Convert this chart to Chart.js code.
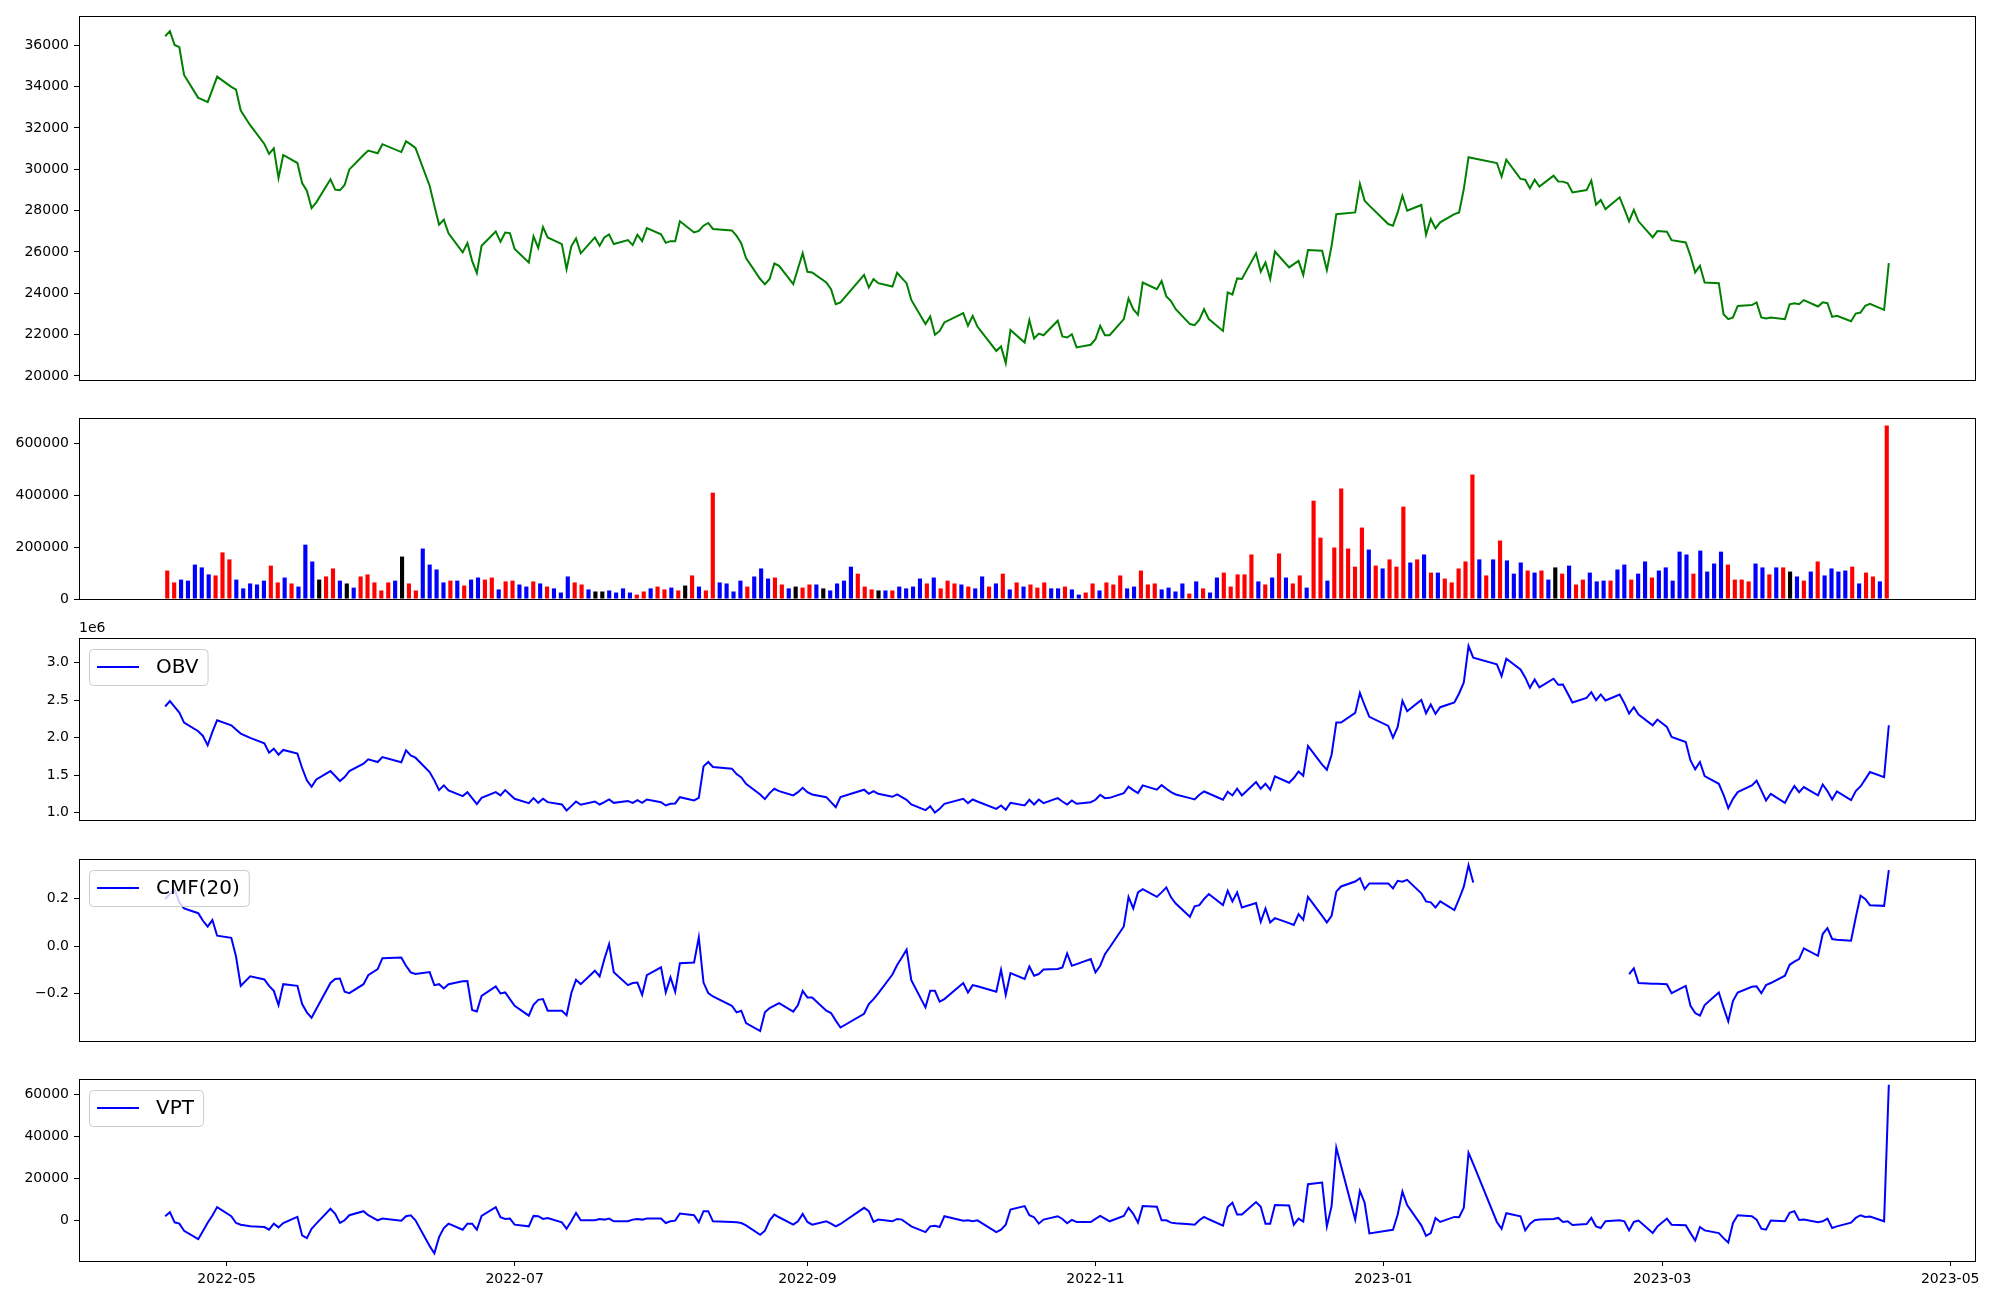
<!DOCTYPE html>
<html lang="en">
<head>
<meta charset="UTF-8">
<title>Price, volume and volume indicators</title>
<script src="https://cdn.jsdelivr.net/npm/chart.js"></script>
<style>
  body { margin: 0; background: #fff; }
  #wrap { position: relative; width: 2000px; height: 1300px; overflow: hidden; }
  #wrap canvas { position: absolute; left: 0; }
</style>
</head>
<body>
<div id="wrap"></div>
<script>
// ---- data ----
const firstDay = '2022-04-18';
const lastDay = '2023-04-18';
const holidays = ['2022-05-05', '2022-06-01', '2022-06-06', '2022-08-15', '2022-09-09', '2022-09-12',
  '2022-10-03', '2022-10-10', '2022-12-30', '2023-01-23', '2023-01-24', '2023-03-01'];

const monthTicks = ['2022-05', '2022-07', '2022-09', '2022-11', '2023-01', '2023-03', '2023-05'];
const priceTicks = [20000, 22000, 24000, 26000, 28000, 30000, 32000, 34000, 36000];
const volTicks = [0, 200000, 400000, 600000];
const obvTicks = [1.0, 1.5, 2.0, 2.5, 3.0];
const cmfTicks = [-0.2, 0.0, 0.2];
const vptTicks = [0, 20000, 40000, 60000];

// closing price, one row per week
const price = [
  36430, 36680, 36010, 35900, 34560,
  33450, 33350, 33240, 33850, 34480,
  33980, 33850, 32840, 32130,
  31220, 30740, 31010, 29580, 30690,
  30300, 29330, 28960, 28120, 28400,
  29510, 29010, 28980, 29240, 29990,
  30690, 30900, 30770, 31210,
  30830, 31350, 31200, 31030,
  29200, 28240, 27320, 27560, 26900,
  25980, 26430, 25570, 24980, 26300,
  26990, 26490, 26940, 26910, 26140,
  25490, 26750, 26190, 27200, 26700,
  26380, 25170, 26270, 26650, 25930,
  26700, 26300, 26700, 26850, 26380,
  26570, 26330, 26830, 26520, 27150,
  26850, 26440, 26520, 26520, 27480,
  26940, 27020, 27270, 27400, 27110,
  27040, 26780, 26410, 25700,
  24690, 24440, 24690, 25440, 25330,
  24440, 25200, 25940, 25040, 25010,
  24520, 24200, 23470, 23560,
  24890, 24280, 24690, 24490,
  24330, 24990, 24730, 24490, 23680,
  22510, 22880, 21990, 22180, 22590,
  23040, 22430, 22910, 22390,
  21210, 21430, 20620, 22230,
  21620, 22700, 21810, 22050, 21970,
  22670, 21910, 21860, 22020, 21380,
  21510, 21780, 22430, 21970, 21970,
  22750, 23750, 23230, 22960, 24520,
  24200, 24590, 23850, 23620, 23230,
  22510, 22460, 22720, 23230, 22750,
  22180, 24040, 23940, 24720, 24690,
  25930, 25040, 25490, 24690, 26020,
  25250, 25410, 25570, 24880, 26090,
  26060, 25120, 26300, 27830, 27850,
  27910, 29290, 28480, 28240,
  27350, 27270, 27910, 28720, 27990,
  28270, 26830, 27590, 27140, 27430,
  27830, 27910, 29040, 30580, 30530,
  30300, 29640, 30460,
  29530, 29490, 29070, 29490, 29160,
  29690, 29410, 29400, 29320, 28880,
  28990, 29450, 28280, 28510, 28070,
  28640, 28070, 27480, 28030, 27480,
  26700, 27010, 26980, 26570,
  26460, 25810, 25010, 25330, 24520,
  24490, 22990, 22750, 22830, 23390,
  23430, 23560, 22830, 22780, 22830,
  22750, 23470, 23520, 23470, 23670,
  23360, 23560, 23520, 22860, 22910,
  22650, 23020, 23070, 23390, 23490,
  23200, 25460
];

// traded volume in thousands of shares, ten bars per row
const volumeK = [
  110, 64, 75, 71, 133, 122, 95, 91, 180, 153,
  75, 41, 60, 56, 71, 129, 64, 83, 60, 48,
  210, 145, 75, 87, 118, 71, 60, 44, 87, 95,
  64, 33, 64, 71, 164, 60, 33, 195, 133, 114,
  64, 71, 71, 52, 75, 83, 75, 83, 37, 68,
  71, 56, 48, 68, 60, 48, 41, 25, 87, 64,
  56, 37, 29, 29, 33, 25, 41, 25, 17, 29,
  41, 48, 37, 44, 33, 52, 91, 48, 33, 411,
  64, 60, 29, 71, 48, 87, 118, 79, 83, 56,
  41, 48, 44, 56, 56, 41, 33, 60, 71, 125,
  98, 48, 37, 33, 33, 33, 48, 41, 48, 79,
  60, 83, 41, 71, 60, 56, 48, 41, 87, 48,
  60, 98, 37, 64, 48, 56, 44, 64, 41, 41,
  48, 37, 17, 25, 60, 33, 64, 56, 91, 41,
  48, 110, 56, 60, 37, 44, 29, 60, 21, 68,
  41, 25, 83, 102, 48, 95, 95, 172, 68, 56,
  83, 176, 83, 60, 91, 44, 380, 237, 71, 199,
  427, 195, 125, 276, 191, 129, 118, 153, 125, 357,
  141, 153, 172, 102, 102, 79, 64, 118, 145, 481,
  153, 91, 153, 226, 149, 98, 141, 110, 102, 110,
  75, 122, 98, 129, 56, 75, 102, 68, 71, 71,
  114, 133, 75, 98, 145, 83, 110, 122, 71, 183,
  172, 98, 187, 106, 137, 183, 133, 75, 75, 68,
  137, 122, 95, 122, 122, 106, 87, 71, 106, 145,
  91, 118, 106, 110, 125, 60, 102, 87, 68, 670
];

// day direction of each bar: u = up, d = down, n = unchanged
const volumeDir = (
  'uuddd dduuu ddddd uudud ddnuu dnduu uuudn uuddd dudud duudu ' +
  'uddud udddu udnnd ddduu duudu nuduu ddddu ddduu dnuud ndddd ' +
  'uuund udddd uduuu duddu dudud uuudd udduu duuud duuud dddud ' +
  'udduu uuudu duduu duudu uuuud uduuu dudud uuuuu dudud ddudu ' +
  'dnudu udddu ddudd udddd duddd duuuu ddudu ndudu ddddu duudu'
).replace(/ /g, '').split('');

// on balance volume, in millions
const obv = [
  2.415, 2.487, 2.411, 2.335, 2.201,
  2.085, 2.022, 1.897, 2.076, 2.232,
  2.165, 2.107, 2.054, 1.996,
  1.924, 1.799, 1.853, 1.772, 1.835,
  1.786, 1.594, 1.429, 1.344, 1.442,
  1.554, 1.487, 1.420, 1.473, 1.554,
  1.652, 1.710, 1.674, 1.741,
  1.670, 1.830, 1.763, 1.732,
  1.540, 1.429, 1.299, 1.362, 1.295,
  1.219, 1.272, 1.192, 1.112, 1.196,
  1.272, 1.228, 1.299, 1.241, 1.183,
  1.125, 1.192, 1.129, 1.183, 1.138,
  1.107, 1.027, 1.085, 1.147, 1.103,
  1.147, 1.107, 1.138, 1.174, 1.129,
  1.152, 1.129, 1.165, 1.129, 1.174,
  1.138, 1.094, 1.116, 1.121, 1.205,
  1.161, 1.196, 1.616, 1.674, 1.607,
  1.585, 1.513, 1.469, 1.384,
  1.241, 1.179, 1.259, 1.317, 1.286,
  1.228, 1.272, 1.330, 1.272, 1.241,
  1.205, 1.138, 1.071, 1.205,
  1.304, 1.250, 1.286, 1.250,
  1.210, 1.241, 1.205, 1.170, 1.107,
  1.031, 1.085, 1.000, 1.049, 1.116,
  1.183, 1.125, 1.174, 1.147,
  1.049, 1.094, 1.036, 1.129,
  1.095, 1.170, 1.107, 1.174, 1.125,
  1.192, 1.147, 1.107, 1.161, 1.116,
  1.138, 1.170, 1.237, 1.192, 1.196,
  1.259, 1.344, 1.299, 1.259, 1.362,
  1.304, 1.366, 1.317, 1.272, 1.241,
  1.192, 1.174, 1.237, 1.281, 1.254,
  1.170, 1.277, 1.228, 1.317, 1.228,
  1.406, 1.317, 1.384, 1.304, 1.482,
  1.397, 1.460, 1.549, 1.491, 1.888,
  1.638, 1.571, 1.772, 2.201, 2.201,
  2.330, 2.598, 2.429, 2.277,
  2.156, 2.000, 2.143, 2.491, 2.353,
  2.504, 2.326, 2.442, 2.317, 2.406,
  2.469, 2.589, 2.737, 3.223, 3.067,
  2.978, 2.821, 3.054,
  2.911, 2.804, 2.665, 2.777, 2.670,
  2.786, 2.705, 2.710, 2.589, 2.469,
  2.531, 2.607, 2.500, 2.576, 2.496,
  2.576, 2.460, 2.321, 2.406, 2.308,
  2.165, 2.241, 2.143, 2.009,
  1.942, 1.696, 1.576, 1.674, 1.487,
  1.384, 1.237, 1.058, 1.183, 1.272,
  1.362, 1.424, 1.295, 1.161, 1.250,
  1.129, 1.250, 1.353, 1.272, 1.339,
  1.228, 1.375, 1.286, 1.174, 1.281,
  1.165, 1.286, 1.348, 1.442, 1.540,
  1.473, 2.165
];

// Chaikin money flow (20), gaps where no value was plotted
const cmf = [
  0.199, 0.220, 0.238, 0.185, 0.159,
  0.139, 0.107, 0.082, 0.110, 0.044,
  0.035, -0.044, -0.168, -0.128,
  -0.141, -0.168, -0.189, -0.249, -0.161,
  -0.168, -0.245, -0.280, -0.303, -0.266,
  -0.156, -0.139, -0.137, -0.193, -0.199,
  -0.161, -0.123, -0.097, -0.051,
  -0.048, -0.083, -0.111, -0.118,
  -0.110, -0.165, -0.161, -0.179, -0.161,
  -0.149, -0.148, -0.270, -0.276, -0.210,
  -0.170, -0.200, -0.196, -0.224, -0.252,
  -0.294, -0.248, -0.227, -0.224, -0.273,
  -0.273, -0.292, -0.199, -0.142, -0.161,
  -0.104, -0.128, -0.055, 0.008, -0.111,
  -0.165, -0.156, -0.154, -0.206, -0.123,
  -0.090, -0.196, -0.132, -0.193, -0.072,
  -0.069, 0.037, -0.154, -0.199, -0.213,
  -0.252, -0.280, -0.273, -0.325,
  -0.359, -0.280, -0.262, -0.252, -0.241,
  -0.277, -0.249, -0.189, -0.217, -0.217,
  -0.273, -0.283, -0.315, -0.344,
  -0.286, -0.245, -0.224, -0.200,
  -0.120, -0.080, -0.048, -0.015, -0.144,
  -0.259, -0.189, -0.189, -0.235, -0.224,
  -0.156, -0.196, -0.165, -0.170,
  -0.193, -0.100, -0.206, -0.114,
  -0.139, -0.086, -0.125, -0.118, -0.099,
  -0.097, -0.090, -0.031, -0.083, -0.076,
  -0.055, -0.111, -0.083, -0.034, -0.006,
  0.083, 0.208, 0.159, 0.227, 0.241,
  0.208, 0.227, 0.248, 0.206, 0.180,
  0.124, 0.168, 0.173, 0.199, 0.220,
  0.173, 0.234, 0.189, 0.227, 0.163,
  0.182, 0.103, 0.159, 0.100, 0.118,
  0.097, 0.089, 0.135, 0.111, 0.208,
  0.128, 0.100, 0.128, 0.230, 0.252,
  0.273, 0.287, 0.241, 0.265,
  0.265, 0.244, 0.276, 0.272, 0.280,
  0.223, 0.189, 0.185, 0.163, 0.189,
  0.152, 0.199, 0.251, 0.342, 0.269,
  null, null, null,
  null, null, null, null, null,
  null, null, null, null, null,
  null, null, null, null, null,
  null, null, -0.118, -0.094, -0.156,
  -0.159, -0.159, -0.161, -0.199,
  -0.168, -0.252, -0.283, -0.294, -0.249,
  -0.196, -0.259, -0.318, -0.231, -0.196,
  -0.172, -0.170, -0.199, -0.165, -0.156,
  -0.125, -0.079, -0.066, -0.055, -0.010,
  -0.041, 0.051, 0.076, 0.030, 0.027,
  0.023, 0.121, 0.213, 0.199, 0.173,
  0.170, 0.321
];

// volume price trend
const vpt = [
  2080, 4000, -800, -1440, -4800,
  -8800, -4960, -960, 2400, 6400,
  2080, -1120, -1920, -2720,
  -3040, -4320, -1440, -3200, -1120,
  1760, -7040, -8320, -3840, -1440,
  5600, 3200, -1120, 160, 2560,
  4480, 2560, 160, 960,
  0, 2080, 2560, 160,
  -12000, -15520, -7840, -3520, -1440,
  -4320, -1440, -1440, -4320, 2240,
  6400, 1600, 800, 960, -1920,
  -2720, 2240, 2080, 800, 1280,
  -800, -3840, -320, 3680, 160,
  160, 800, 480, 960, -320,
  -320, 480, 800, 480, 960,
  960, -1120, -320, 0, 3360,
  2560, -800, 4480, 4480, -320,
  -640, -800, -1120, -2240,
  -6720, -4800, 160, 2880, 1600,
  -1920, -320, 3200, -640, -1920,
  -320, -1440, -2720, -1600,
  6080, 4480, -640, 480,
  -320, 800, 480, -1120, -2720,
  -5440, -2720, -2400, -3040, 2080,
  0, 160, -320, 160,
  -5440, -4320, -1920, 5280,
  6880, 2560, 1600, -1440, 480,
  2080, 800, -1280, 320, -640,
  -640, 800, 2240, 960, -320,
  2240, 6080, 3200, -960, 6880,
  6560, 160, 160, -960, -1280,
  -1760, -1920, 160, 1760, 640,
  -2400, 6400, 8480, 2880, 2880,
  8800, 6560, -1440, -1440, 7360,
  7200, -1920, 960, -480, 17280,
  18080, -2720, 6880, 34560, 26080,
  480, 14080, 8480, -6080,
  -4640, -4320, 2880, 13760, 7360,
  -2240, -7200, -5920, 1280, -640,
  1760, 1600, 6080, 32160, 26880,
  -640, -3840, 3520,
  2080, -4640, -1600, 160, 480,
  800, 1280, -640, -320, -2080,
  -1600, 1280, -2720, -3520, -320,
  160, -320, -4640, -640, 0,
  -5920, -2720, 960, -1920,
  -2240, -5920, -9440, -3040, -4640,
  -5920, -8320, -10400, -1120, 2560,
  2080, 480, -3840, -4320, 0,
  -320, 3680, 4480, 320, 480,
  -800, -320, 960, -3520, -2720,
  -960, 1280, 2560, 1760, 1920,
  -320, 64480
];

// ---- dates ----
const DAY = 86400000;
const epoch = Date.parse('2022-05-01');
const dayOffset = iso => (Date.parse(iso) - epoch) / DAY;

function tradingDays() {
  const out = [];
  for (let t = Date.parse(firstDay); t <= Date.parse(lastDay); t += DAY) {
    const d = new Date(t);
    const wd = d.getUTCDay();
    const iso = d.toISOString().slice(0, 10);
    if (wd !== 0 && wd !== 6 && !holidays.includes(iso)) out.push(iso);
  }
  return out;
}

const dates = tradingDays();
const dayX = dates.map(dayOffset);
[['price', price], ['volume', volumeK], ['obv', obv], ['cmf', cmf], ['vpt', vpt], ['dir', volumeDir]]
  .forEach(([n, a]) => { if (a.length !== dates.length) throw new Error(n + ' has ' + a.length + ' of ' + dates.length); });

const onDates = arr => arr.map((v, i) => ({ x: dayX[i], y: v }));

// ---- layout ----
const PLOT_LEFT = 79, PLOT_RIGHT = 1975;
const X_MIN = -31.25, X_MAX = 370.25;          // days around 2022-05-01
const BAR_MIN = -12.78, BAR_MAX = 261.78;      // bar index range
const X_AXIS_H = 35;
const dirColor = { u: '#ff0000', d: '#0000ff', n: '#000000' };

Chart.defaults.font.family = "'DejaVu Sans', sans-serif";
Chart.defaults.font.size = 14;
Chart.defaults.color = '#000';

const tickGrid = { drawOnChartArea: false, drawTicks: true, tickLength: 5, color: '#000', lineWidth: 1 };

function yAxis(min, max, ticks, fmt) {
  return {
    type: 'linear', position: 'left', min: min, max: max,
    afterFit: s => { s.width = PLOT_LEFT; },
    afterBuildTicks: s => { s.ticks = ticks.map(v => ({ value: v })); },
    ticks: { callback: v => fmt(v), padding: 5, autoSkip: false },
    grid: tickGrid,
    border: { display: false }
  };
}

function dateAxis(show) {
  const axis = {
    type: 'linear', min: X_MIN, max: X_MAX, display: show,
    afterBuildTicks: s => { s.ticks = monthTicks.map(m => ({ value: dayOffset(m + '-01') })); },
    ticks: { callback: (v, i) => monthTicks[i], padding: 5, autoSkip: false, maxRotation: 0 },
    grid: tickGrid,
    border: { display: false }
  };
  if (show) axis.afterFit = s => { s.height = X_AXIS_H; };
  return axis;
}

const minus = s => s.replace('-', '\u2212');

// frame, matplotlib-like legend box and offset text
const decorations = {
  id: 'decorations',
  afterDatasetsDraw(chart, args, opts) {
    const { ctx, chartArea: a } = chart;
    ctx.save();
    if (opts.legend) {
      const ds = chart.data.datasets[0];
      ctx.font = "20px 'DejaVu Sans'";
      const tw = ctx.measureText(ds.label).width;
      const x = a.left + 10, y = a.top + 11, h = 36, w = 67 + tw + 9;
      ctx.beginPath();
      ctx.roundRect(x + 0.5, y + 0.5, w, h, 4);
      ctx.fillStyle = 'rgba(255,255,255,0.8)';
      ctx.fill();
      ctx.strokeStyle = '#cccccc';
      ctx.lineWidth = 1;
      ctx.stroke();
      ctx.beginPath();
      ctx.moveTo(x + 8, y + h / 2);
      ctx.lineTo(x + 50, y + h / 2);
      ctx.strokeStyle = ds.borderColor;
      ctx.lineWidth = 2;
      ctx.stroke();
      ctx.fillStyle = '#000';
      ctx.textBaseline = 'middle';
      ctx.fillText(ds.label, x + 67, y + h / 2 + 1);
    }
    if (opts.offsetText) {
      ctx.font = "14px 'DejaVu Sans'";
      ctx.fillStyle = '#000';
      ctx.textBaseline = 'bottom';
      ctx.fillText(opts.offsetText, a.left, a.top - 3);
    }
    ctx.strokeStyle = '#000';
    ctx.lineWidth = 1;
    ctx.strokeRect(Math.round(a.left) + 0.5, Math.round(a.top) + 0.5,
      Math.round(a.width), Math.round(a.height));
    ctx.restore();
  }
};

// axisBelow: room under the plot taken by a visible date axis
function makePanel(plotTop, plotBottom, padTop, padBottom, axisBelow, config) {
  const canvas = document.createElement('canvas');
  canvas.width = 2000;
  canvas.height = Math.round(plotBottom - plotTop + padTop + padBottom + axisBelow);
  canvas.style.top = (plotTop - padTop) + 'px';
  document.getElementById('wrap').appendChild(canvas);
  config.options = Object.assign({
    responsive: false,
    animation: false,
    events: [],
    layout: { padding: { top: padTop, bottom: padBottom, left: 0, right: 2000 - PLOT_RIGHT } }
  }, config.options);
  config.plugins = [decorations];
  return new Chart(canvas.getContext('2d'), config);
}

const lineStyle = (label, color, data) => ({
  label: label, data: data, borderColor: color, borderWidth: 2,
  pointRadius: 0, tension: 0, fill: false, spanGaps: false
});

const quiet = extra => Object.assign({ legend: { display: false }, tooltip: { enabled: false } }, extra);

// price
makePanel(15.5, 379, 15, 15, 0, {
  type: 'line',
  data: { datasets: [lineStyle('Close', '#008000', onDates(price))] },
  options: {
    scales: { x: dateAxis(false), y: yAxis(19806, 37410, priceTicks, v => String(v)) },
    plugins: quiet({ decorations: {} })
  }
});

// volume bars
makePanel(418.3, 599.3, 15, 15, 0, {
  type: 'bar',
  data: {
    datasets: [{
      label: 'Volume',
      data: volumeK.map((v, i) => ({ x: i, y: v * 1000 })),
      backgroundColor: volumeDir.map(d => dirColor[d]),
      borderWidth: 0,
      barPercentage: 0.6,
      categoryPercentage: 1.0
    }]
  },
  options: {
    scales: {
      x: { type: 'linear', min: BAR_MIN, max: BAR_MAX, offset: false, display: false },
      y: yAxis(0, 699400, volTicks, v => String(v))
    },
    plugins: quiet({ decorations: {} })
  }
});

// OBV
makePanel(638.3, 820, 22, 15, 0, {
  type: 'line',
  data: { datasets: [lineStyle('OBV', '#0000ff', onDates(obv))] },
  options: {
    scales: { x: dateAxis(false), y: yAxis(0.9, 3.33, obvTicks, v => v.toFixed(1)) },
    plugins: quiet({ decorations: { legend: true, offsetText: '1e6' } })
  }
});

// CMF
makePanel(859.3, 1041.3, 15, 15, 0, {
  type: 'line',
  data: { datasets: [lineStyle('CMF(20)', '#0000ff', onDates(cmf))] },
  options: {
    scales: { x: dateAxis(false), y: yAxis(-0.401, 0.368, cmfTicks, v => minus(v.toFixed(1))) },
    plugins: quiet({ decorations: { legend: true } })
  }
});

// VPT with the shared date axis
makePanel(1079.3, 1261, 15, 4, X_AXIS_H, {
  type: 'line',
  data: { datasets: [lineStyle('VPT', '#0000ff', onDates(vpt))] },
  options: {
    scales: { x: dateAxis(true), y: yAxis(-19150, 67170, vptTicks, v => String(v)) },
    plugins: quiet({ decorations: { legend: true } })
  }
});
</script>
</body>
</html>
